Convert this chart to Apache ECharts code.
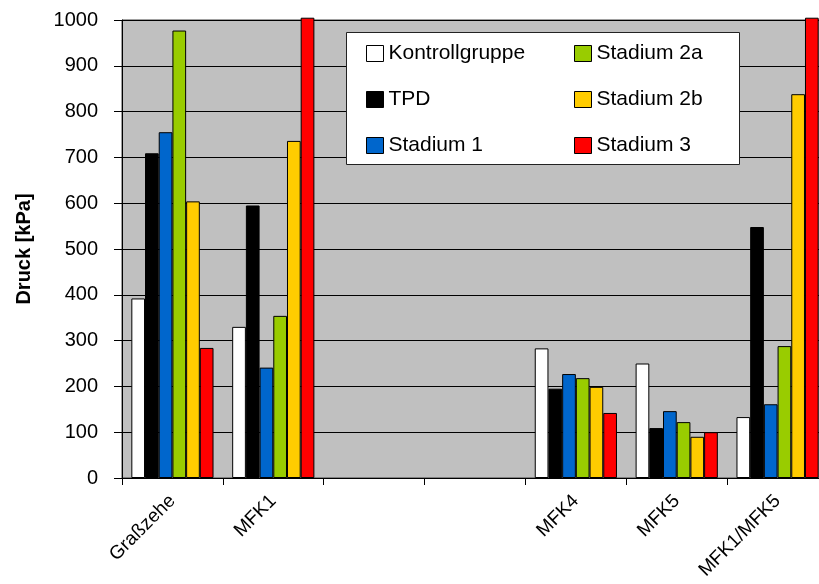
<!DOCTYPE html>
<html>
<head>
<meta charset="utf-8">
<script src="https://cdn.jsdelivr.net/npm/echarts@6/dist/echarts.min.js"></script>
<style>
  html, body { margin: 0; padding: 0; background: #fff; overflow: hidden; }
  /* plot area runs a little past the right window edge */
  #chart { width: 828px; height: 584px; }
</style>
</head>
<body>
<div id="chart"></div>
<script>
// Foot regions (two unlabeled slots stay empty)
const categories = ['Graßzehe', 'MFK1', '', ' ', 'MFK4', 'MFK5', 'MFK1/MFK5'];

// Pressure in kPa per group
const kontrollgruppe = [392, 330, null, null, 283, 250, 133];
const tpd            = [709, 595, null, null, 195, 109, 548];
const stadium1       = [755, 241, null, null, 227, 146, 161];
const stadium2a      = [977, 354, null, null, 218, 122, 288];
const stadium2b      = [604, 736, null, null, 199, 90, 838];
const stadium3       = [284, 1005, null, null, 142, 100, 1005];

const seriesNames = ['Kontrollgruppe', 'TPD', 'Stadium 1', 'Stadium 2a', 'Stadium 2b', 'Stadium 3'];
const seriesData = [kontrollgruppe, tpd, stadium1, stadium2a, stadium2b, stadium3];
const seriesColors = ['#ffffff', '#000000', '#0066cc', '#99cc00', '#ffcc00', '#ff0000'];

const yTicks = { min: 0, max: 1000, interval: 100 };

const font = 'Liberation Sans, Arial, sans-serif';

const chart = echarts.init(document.getElementById('chart'), null, { renderer: 'canvas' });

const series = seriesNames.map((name, i) => ({
  name: name,
  type: 'bar',
  data: seriesData[i],
  clip: false,
  barGap: '0%',
  barCategoryGap: '18.5%',
  itemStyle: { color: seriesColors[i], borderColor: '#000', borderWidth: 1 },
  emphasis: { disabled: true }
}));

const legendCommon = {
  orient: 'vertical',
  top: 43,
  padding: 0,
  itemGap: 25,
  itemWidth: 17,
  itemHeight: 16,
  icon: 'rect',
  selectedMode: false,
  itemStyle: { borderColor: '#000', borderWidth: 1 },
  textStyle: { fontFamily: font, fontSize: 21, lineHeight: 20, color: '#000' }
};

chart.setOption({
  animation: false,
  textStyle: { fontFamily: font },
  grid: {
    left: 122, right: 0, top: 20, bottom: 106,
    show: true, backgroundColor: '#c0c0c0', borderColor: '#404040', borderWidth: 1
  },
  graphic: [{
    type: 'rect',
    z: 1,
    shape: { x: 346.5, y: 32.5, width: 393, height: 132 },
    style: { fill: '#ffffff', stroke: '#222', lineWidth: 1 }
  }],
  legend: [
    Object.assign({ left: 366, data: seriesNames.slice(0, 3) }, legendCommon),
    Object.assign({ left: 574, data: seriesNames.slice(3) }, legendCommon)
  ],
  xAxis: {
    type: 'category',
    data: categories,
    axisLine: { lineStyle: { color: '#000', width: 1 } },
    axisTick: { show: true, length: 7, lineStyle: { color: '#000' } },
    axisLabel: {
      rotate: 45, interval: 0, margin: 20,
      fontFamily: font, fontSize: 19, color: '#000'
    },
    splitLine: { show: false }
  },
  yAxis: {
    type: 'value',
    min: yTicks.min, max: yTicks.max, interval: yTicks.interval,
    name: 'Druck [kPa]',
    nameLocation: 'middle',
    nameGap: 88,
    nameRotate: 90,
    nameTextStyle: { fontFamily: font, fontSize: 20, fontWeight: 'bold', color: '#000' },
    axisLine: { show: true, lineStyle: { color: '#000', width: 1 } },
    axisTick: { show: true, length: 8, lineStyle: { color: '#000' } },
    axisLabel: {
      margin: 24, fontFamily: font, fontSize: 20, color: '#000',
      formatter: v => String(v)
    },
    splitLine: { show: true, lineStyle: { color: '#000', width: 1 } }
  },
  series: series
});
</script>
</body>
</html>
